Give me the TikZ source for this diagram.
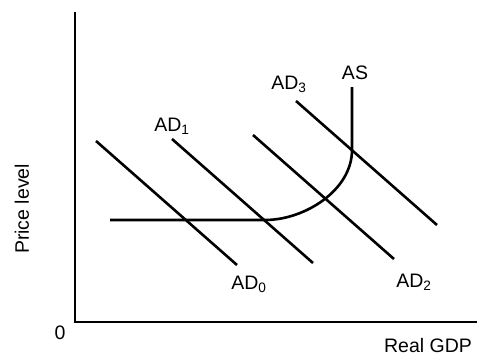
\documentclass[tikz,border=0pt]{standalone}
\usepackage{fontspec}
\setmainfont{Liberation Sans}
\usepackage{tikz}

\begin{document}
\begin{tikzpicture}[x=1pt,y=-1pt,
  curve/.style={line width=2.6pt},
  lbl/.style={font=\fontsize{19.5}{19.5}\selectfont, inner sep=0pt}]
\useasboundingbox (0,0) rectangle (483,356);
\draw[line width=2.2pt] (75,12) -- (75,322) -- (477,322);

\foreach \x/\y in {96/141,172/139,253/135,296/101}
  \draw[curve] (\x,\y) -- ++(141,124);

\draw[curve] (110,220) -- (265,220) .. controls (305,220) and (352,190) .. (352,150) -- (352,87);

\node[lbl] (zero) at (60,333) {0};
\node[lbl] (gdp) at (428,346) {Real GDP};
\node[lbl, rotate=90] (price) at (22,209) {Price level};
\node[lbl] (ad0) at (249,284) {AD\textsubscript{0}};
\node[lbl] (ad1) at (172,126) {AD\textsubscript{1}};
\node[lbl] (ad2) at (414,282) {AD\textsubscript{2}};
\node[lbl] (ad3) at (289,84) {AD\textsubscript{3}};
\node[lbl] (as) at (355,73) {AS};
\end{tikzpicture}
\end{document}
